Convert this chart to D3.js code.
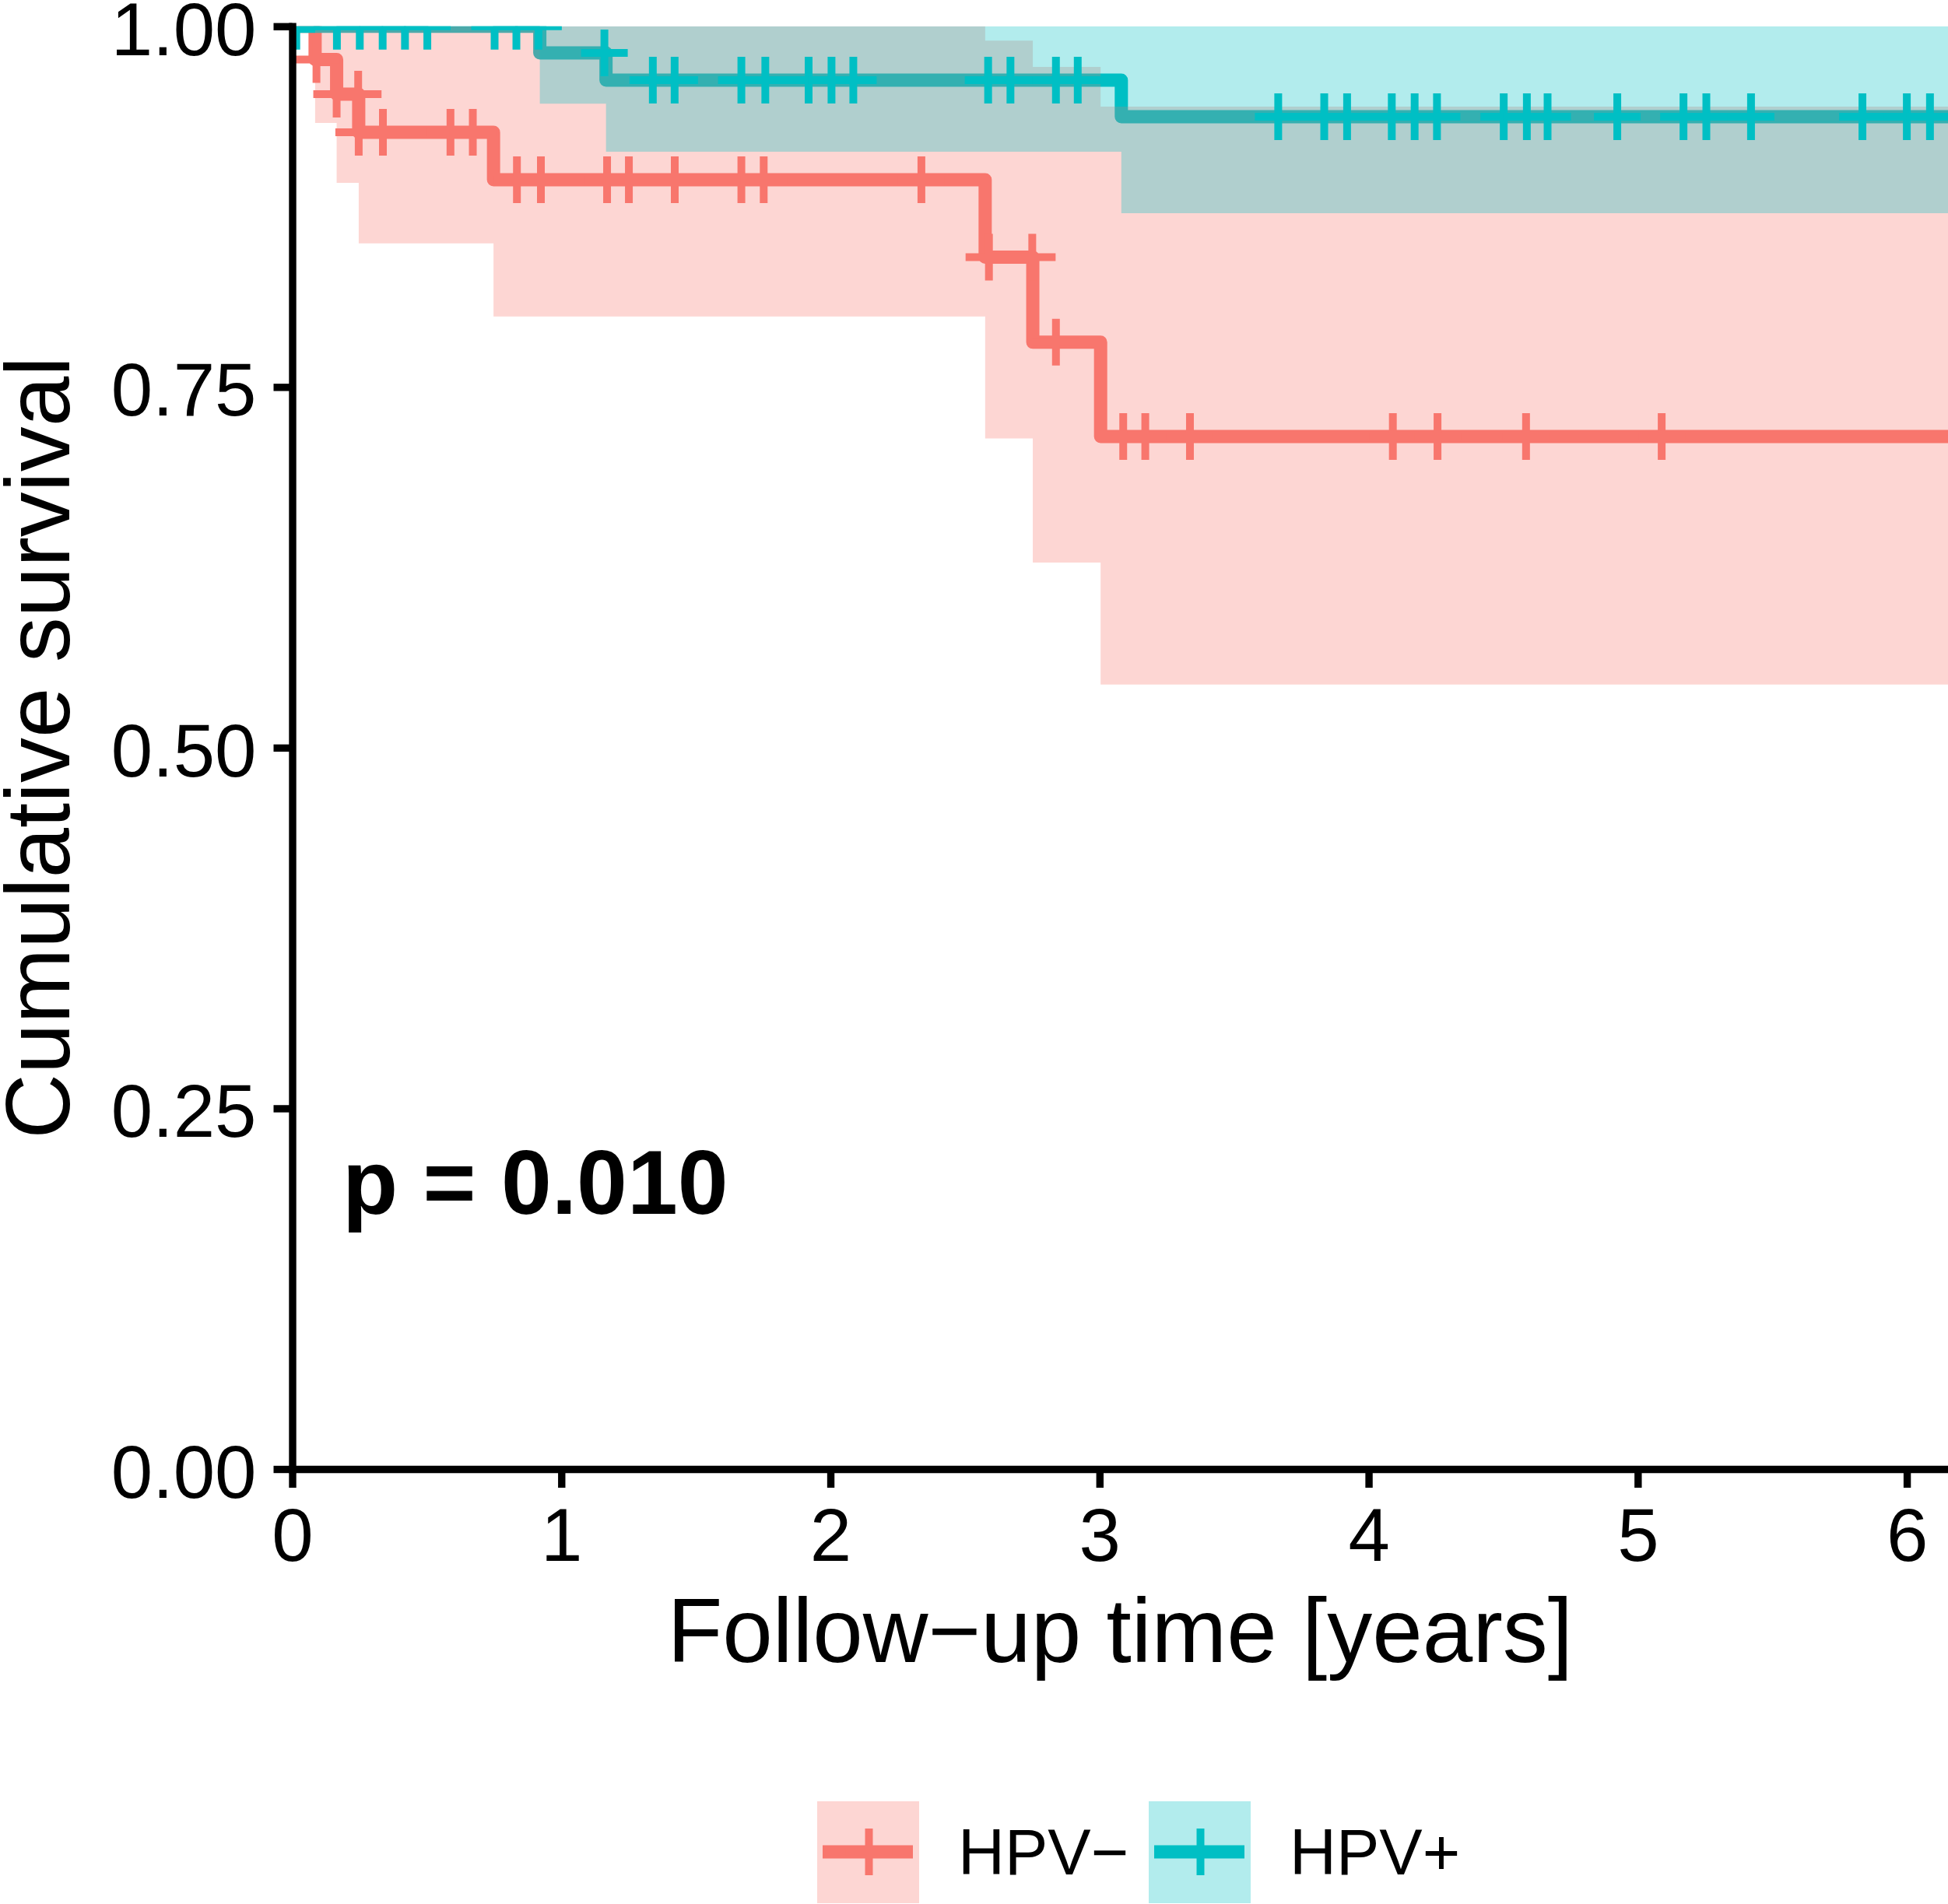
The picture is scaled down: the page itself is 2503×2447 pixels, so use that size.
<!DOCTYPE html>
<html>
<head>
<meta charset="utf-8">
<script src="https://cdn.jsdelivr.net/npm/d3@7"></script>
<style>
  html, body { margin: 0; padding: 0; background: #fff; }
  svg { display: block; }
  text { font-family: "Liberation Sans", Arial, Helvetica, sans-serif; fill: #000; }
</style>
</head>
<body>
<svg id="chart" width="2503" height="2447"></svg>
<script>
// ---------------- data ----------------
const groups = ["HPV−", "HPV+"];
const groupColors = ["#F8766D", "#00BFC4"];
const timeTicks = [0, 1, 2, 3, 4, 5, 6];
const survTicks = [0, 0.25, 0.5, 0.75, 1];
const xTitle = "Follow−up time [years]";
const yTitle = "Cumulative survival";
const pLabel = "p = 0.010";

// HPV− step curve (event times) with confidence band
const negTime  = [0, 0.085, 0.165, 0.247, 0.748, 2.575, 2.752, 3.004, 6.4];
const negSurv  = [1, 0.977, 0.953, 0.9265, 0.8936, 0.840, 0.781, 0.7157, 0.7157];
const negLower = [1, 0.933, 0.8915, 0.8496, 0.7989, 0.7143, 0.6283, 0.5438, 0.5438];
const negUpper = [1, 1, 1, 1, 1, 0.990, 0.9718, 0.9443, 0.9443];
const negCensor = [0.09, 0.165, 0.245, 0.247, 0.337, 0.588, 0.671, 0.835, 0.924, 1.170,
                   1.251, 1.4215, 1.669, 1.752, 2.338, 2.589, 2.750, 2.838, 3.088, 3.170,
                   3.336, 4.090, 4.256, 4.585, 5.089];

// HPV+ step curve with confidence band
const posTime  = [0, 0.920, 1.166, 3.081, 6.4];
const posSurv  = [1, 0.9816, 0.9627, 0.9373, 0.9373];
const posLower = [1, 0.9463, 0.9131, 0.8705, 0.8705];
const posUpper = [1, 1, 1, 1, 1];
const posCensor = [0.015, 0.166, 0.251, 0.336, 0.419, 0.502, 0.752, 0.833, 0.915, 1.16,
                   1.340, 1.421, 1.669, 1.758, 1.919, 2.004, 2.085, 2.586, 2.669, 2.838,
                   2.919, 3.664, 3.835, 3.920, 4.086, 4.171, 4.254, 4.502, 4.588, 4.665,
                   4.924, 5.170, 5.255, 5.421, 5.835, 6.000, 6.086];

// ---------------- layout ----------------
const pL = 375.5, pR = 2503, pT = 33.8, pB = 1888;
const x = d3.scaleLinear().domain([0, 6.153]).range([pL, pR]);
const y = d3.scaleLinear().domain([0, 1]).range([pB, pT]);

const svg = d3.select("#chart");

svg.append("defs").append("clipPath").attr("id", "panel")
  .append("rect").attr("x", pL).attr("y", pT)
  .attr("width", pR - pL).attr("height", pB - pT);

const series = [
  { name: groups[0], color: groupColors[0], time: negTime, surv: negSurv, lower: negLower, upper: negUpper, censor: negCensor },
  { name: groups[1], color: groupColors[1], time: posTime, surv: posSurv, lower: posLower, upper: posUpper, censor: posCensor }
];

function pts(s) { return s.time.map((t, i) => ({ t, s: s.surv[i], lo: s.lower[i], hi: s.upper[i] })); }
function survAt(s, t) { const i = d3.bisectRight(s.time, t) - 1; return s.surv[Math.max(0, i)]; }

const panel = svg.append("g").attr("clip-path", "url(#panel)");

const line = d3.line().x(d => x(d.t)).y(d => y(d.s)).curve(d3.curveStepAfter);
const area = d3.area().x(d => x(d.t)).y0(d => y(d.lo)).y1(d => y(d.hi)).curve(d3.curveStepAfter);

// curves
series.forEach(s => {
  panel.append("path").datum(pts(s)).attr("d", line)
    .attr("fill", "none").attr("stroke", s.color).attr("stroke-width", 17)
    .attr("stroke-linejoin", "round").attr("stroke-linecap", "butt");
});
// confidence bands
series.forEach(s => {
  panel.append("path").datum(pts(s)).attr("d", area)
    .attr("fill", s.color).attr("fill-opacity", 0.3).attr("stroke", "none");
});
// censor marks
const plus = "M-30,0H30M0,-30V30";
series.forEach(s => {
  panel.append("g").selectAll("path").data(s.censor).join("path")
    .attr("transform", t => `translate(${x(t)},${y(survAt(s, t))})`)
    .attr("d", plus).attr("fill", "none").attr("stroke", s.color).attr("stroke-width", 10);
});

// ---------------- axes ----------------
const yAxis = svg.append("g").attr("transform", `translate(${pL},0)`)
  .call(d3.axisLeft(y).tickValues(survTicks).tickFormat(d3.format(".2f"))
    .tickSize(24).tickSizeOuter(0).tickPadding(22));
const xAxis = svg.append("g").attr("transform", `translate(0,${pB})`)
  .call(d3.axisBottom(x).tickValues(timeTicks).tickFormat(d3.format("d"))
    .tickSize(24).tickSizeOuter(0).tickPadding(26));
[yAxis, xAxis].forEach(a => {
  a.select(".domain").attr("stroke", "#000").attr("stroke-width", 9.4).attr("stroke-linecap", "square");
  a.selectAll(".tick line").attr("stroke", "#000").attr("stroke-width", 9.4);
  a.selectAll(".tick text").attr("font-size", 96)
    .attr("font-family", "Liberation Sans, Arial, Helvetica, sans-serif").attr("fill", "#000");
});
yAxis.selectAll(".tick text").attr("dy", "0.38em");

// titles
svg.append("text").attr("x", (pL + pR) / 2).attr("y", 2136)
  .attr("text-anchor", "middle").attr("font-size", 116).text(xTitle);
svg.append("text").attr("transform", `translate(89,${(pT + pB) / 2}) rotate(-90)`)
  .attr("text-anchor", "middle").attr("font-size", 116).text(yTitle);

// p-value
svg.append("text").attr("x", 440).attr("y", 1560)
  .attr("font-size", 116.5).attr("font-weight", "bold").text(pLabel);

// ---------------- legend ----------------
const keyX = [1050, 1476], keyY = 2315, keySize = 131;
const leg = svg.append("g").selectAll("g").data(series).join("g")
  .attr("transform", (d, i) => `translate(${keyX[i]},${keyY})`);
leg.append("rect").attr("width", keySize).attr("height", keySize)
  .attr("fill", d => d.color).attr("fill-opacity", 0.3);
leg.append("line").attr("x1", 7).attr("x2", keySize - 8).attr("y1", 65).attr("y2", 65)
  .attr("stroke", d => d.color).attr("stroke-width", 17);
leg.append("path").attr("transform", `translate(${keySize / 2 + 1},65)`).attr("d", plus)
  .attr("fill", "none").attr("stroke", d => d.color).attr("stroke-width", 10);
leg.append("text").attr("x", keySize + 50).attr("y", 94)
  .attr("font-size", 83).text(d => d.name);
</script>
</body>
</html>
